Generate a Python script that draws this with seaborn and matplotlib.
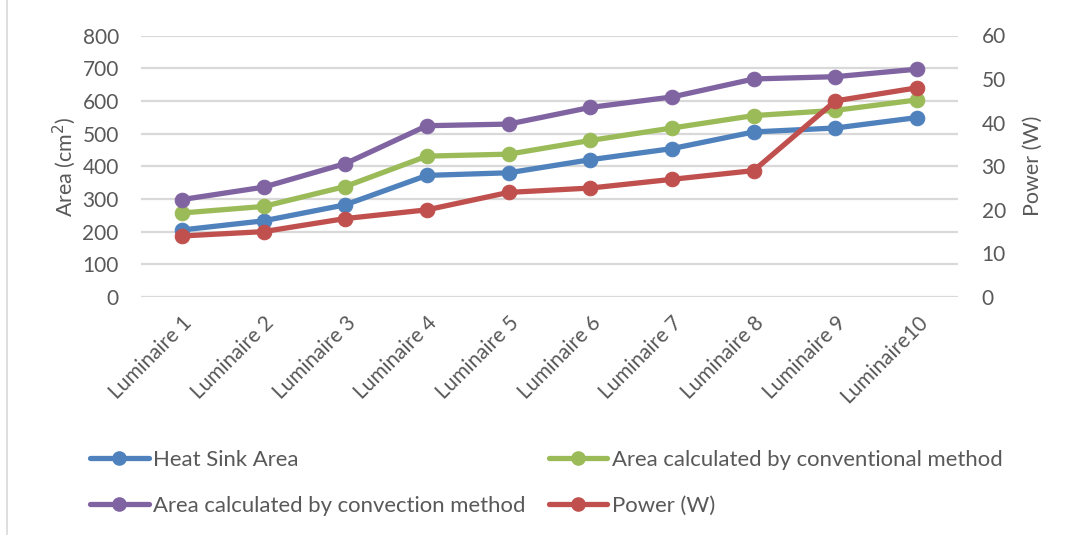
import matplotlib
matplotlib.use("Agg")
import matplotlib.pyplot as plt
from matplotlib.lines import Line2D
import seaborn as sns
import pandas as pd

categories = ["Luminaire 1", "Luminaire 2", "Luminaire 3", "Luminaire 4", "Luminaire 5",
              "Luminaire 6", "Luminaire 7", "Luminaire 8", "Luminaire 9", "Luminaire10"]
heat_sink_area = [205, 233, 282, 372, 380, 420, 454, 505, 517, 549]
conventional_area = [257, 277, 338, 431, 437, 479, 517, 555, 571, 603]
convection_area = [298, 336, 408, 524, 529, 580, 612, 667, 674, 697]
power_w = [14, 15, 18, 20, 24, 25, 27, 29, 45, 48]

left_ticks = [0, 100, 200, 300, 400, 500, 600, 700, 800]
right_ticks = [0, 10, 20, 30, 40, 50, 60]

series_names = ["Heat Sink Area", "Area calculated by conventional method",
                "Area calculated by convection method", "Power (W)"]
colors = ["#4F81BD", "#9BBB59", "#8064A2", "#C0504D"]

sns.set_style("white")
plt.rcParams["font.family"] = ["Lato", "DejaVu Sans"]
text_color = "#595959"
grid_color = "#D9D9D9"

fig = plt.figure(figsize=(10.68, 5.35), dpi=100)
ax = fig.add_axes([141/1068, 1-297/535, (958-141)/1068, (297-35.5)/535])
ax2 = ax.twinx()

lw = 3.8
ms = 10.5
for name, vals, col in zip(series_names[:3], [heat_sink_area, conventional_area, convection_area], colors[:3]):
    df = pd.DataFrame({"cat": categories, "val": vals})
    sns.lineplot(data=df, x="cat", y="val", ax=ax, color=col, linewidth=lw,
                 marker="o", markersize=ms, markeredgecolor=col, sort=False, legend=False)

dfp = pd.DataFrame({"cat": categories, "val": power_w})
sns.lineplot(data=dfp, x="cat", y="val", ax=ax2, color=colors[3], linewidth=lw,
             marker="o", markersize=ms, markeredgecolor=colors[3], sort=False, legend=False)

ax.set_xlim(-0.5, len(categories) - 0.5)
ax.set_ylim(0, 800)
ax2.set_ylim(0, 60)
ax.set_yticks(left_ticks)
ax2.set_yticks(right_ticks)

ax.yaxis.grid(True, color=grid_color, linewidth=1.6)
ax.set_axisbelow(True)
ax2.grid(False)
for a in (ax, ax2):
    for s in a.spines.values():
        s.set_visible(False)
    a.tick_params(axis="both", length=0, colors=text_color, labelsize=15)
ax.tick_params(axis="y", pad=16)
ax2.tick_params(axis="y", pad=17)
ax.tick_params(axis="x", pad=11)
for lbl in ax.get_xticklabels():
    lbl.set_rotation(45)
    lbl.set_ha("right")
    lbl.set_va("top")
    lbl.set_rotation_mode("anchor")
    lbl.set_fontsize(15)

ax.set_xlabel("")
ax.set_ylabel("Area (cm$^2$)", color=text_color, fontsize=15.5, labelpad=3)
ax2.set_ylabel("Power (W)", color=text_color, fontsize=15.5, labelpad=12)

order = [series_names[0], series_names[2], series_names[1], series_names[3]]
leg_handles = [Line2D([0], [0], color=colors[series_names.index(n)], linewidth=lw,
                      marker="o", markersize=ms - 1) for n in order]
leg = fig.legend(leg_handles, order, ncol=2, loc="upper left",
                 bbox_to_anchor=(90/1068, 1-450/535), frameon=False,
                 borderpad=0, borderaxespad=0,
                 fontsize=15.9, handlelength=2.65, handletextpad=0.2,
                 columnspacing=1.05, labelspacing=1.18, labelcolor=text_color)

fig.add_artist(Line2D([7/1068, 7/1068], [0, 1], color="#D9D9D9", linewidth=1.2,
                      transform=fig.transFigure))

fig.savefig("out.png", dpi=100, facecolor="white")
